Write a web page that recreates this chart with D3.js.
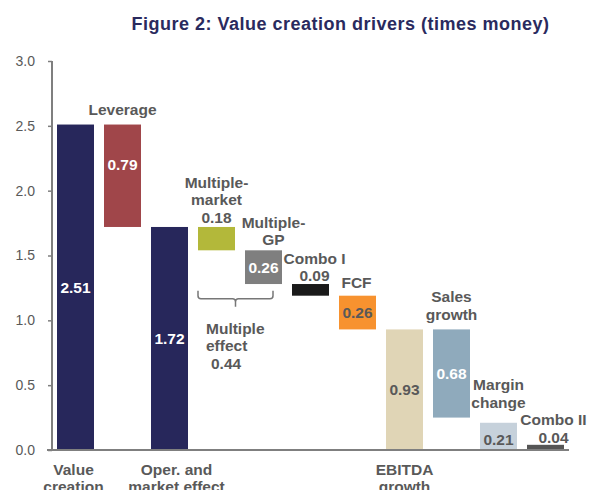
<!DOCTYPE html>
<html>
<head>
<meta charset="utf-8">
<script src="https://cdn.jsdelivr.net/npm/d3@7/dist/d3.min.js"></script>
<style>
  html, body { margin: 0; padding: 0; background: #fff; }
  svg { display: block; font-family: "Liberation Sans", Arial, sans-serif; }
</style>
</head>
<body>
<script>
// ---- data ----
const categories = ["Value creation", "Leverage", "Oper. and market effect", "Multiple-market", "Multiple-GP",
  "Combo I", "FCF", "EBITDA growth", "Sales growth", "Margin change", "Combo II"];
const barStart = [0, 1.72, 0, 1.54, 1.28, 1.19, 0.93, 0, 0.25, 0, 0];
const barEnd = [2.51, 2.51, 1.72, 1.72, 1.54, 1.28, 1.19, 0.93, 0.93, 0.21, 0.04];
const valueLabels = ["2.51", "0.79", "1.72", "0.18", "0.26", "0.09", "0.26", "0.93", "0.68", "0.21", "0.04"];
const yTicks = [0, 0.5, 1.0, 1.5, 2.0, 2.5, 3.0];
const axisCategories = [["Value", "creation"], null, ["Oper. and", "market effect"], null, null, null, null, ["EBITDA", "growth"], null, null, null];
const annotations = [null, ["Leverage"], null, ["Multiple-", "market", "0.18"], ["Multiple-", "GP"], ["Combo I", "0.09"],
  ["FCF"], null, ["Sales", "growth"], ["Margin", "change"], ["Combo II", "0.04"]];
const multipleEffect = ["Multiple", "effect", "0.44"];
const title = "Figure 2: Value creation drivers (times money)";

// ---- styles ----
const colors = ["#27275b", "#a0464a", "#27275b", "#b3b83a", "#7f7f7f", "#1a1a1a", "#f7922f", "#e0d5b6", "#8faabc", "#c6d1db", "#555555"];
const insideLabel = [true, true, true, false, true, false, true, true, true, true, false];
const labelColor = ["#fff", "#fff", "#fff", null, "#fff", null, "#595959", "#595959", "#fff", "#595959", null];
const labelNudge = {1: -11, 9: 3};
const annGap = {1: 10, 3: 4, 4: 5, 5: 3, 6: 8, 8: 9.5, 9: 15, 10: 2};
const annDx = {1: 0, 3: 0, 4: 10, 5: 4, 6: -1, 8: 0, 9: 0, 10: 8};
const gray = "#595959";
const fs = 15.5;

const W = 589, H = 490;
const svg = d3.select("body").append("svg").attr("width", W).attr("height", H);

const x = d3.scaleBand().domain(d3.range(categories.length)).range([52, 569])
  .paddingInner(10 / 47).paddingOuter(5 / 47);
const y = d3.scaleLinear().domain([0, 3]).range([450, 61]);

// title
svg.append("text").attr("x", 340.5).attr("y", 30).attr("text-anchor", "middle")
  .attr("font-size", 18).attr("font-weight", "bold").attr("letter-spacing", 0.5)
  .attr("fill", "#2a2a5e").text(title);

// bars
svg.append("g").selectAll("rect").data(categories).join("rect")
  .attr("x", (d, i) => x(i)).attr("width", x.bandwidth())
  .attr("y", (d, i) => y(barEnd[i])).attr("height", (d, i) => y(barStart[i]) - y(barEnd[i]))
  .attr("fill", (d, i) => colors[i]);

// y axis
const yAxis = svg.append("g").attr("transform", "translate(52,0)")
  .call(d3.axisLeft(y).tickValues(yTicks).tickFormat(d3.format(".1f")).tickSize(4).tickPadding(13));
yAxis.select(".domain").attr("stroke", "#7f7f7f").attr("stroke-width", 2).attr("d", `M0,${y(3)}V${y(0)}`);
yAxis.selectAll(".tick line").attr("stroke", "#7f7f7f").attr("stroke-width", 1.5);
yAxis.selectAll(".tick text").attr("font-size", 14).attr("fill", gray)
  .attr("font-family", "'Liberation Sans', Arial, sans-serif");

// x axis line
const xAxis = svg.append("g").attr("transform", `translate(0,${y(0)})`)
  .call(d3.axisBottom(x).tickSize(0).tickFormat(""));
xAxis.select(".domain").attr("stroke", "#7f7f7f").attr("stroke-width", 2).attr("d", "M47,0H569");

// category labels
const catDx = {0: -2, 2: 7, 7: 0};
categories.forEach((c, i) => {
  const lines = axisCategories[i];
  if (!lines) return;
  const t = svg.append("text").attr("text-anchor", "middle").attr("font-size", fs).attr("font-weight", "bold")
    .attr("fill", gray);
  lines.forEach((l, k) => t.append("tspan").attr("x", x(i) + x.bandwidth() / 2 + (catDx[i] || 0))
    .attr("y", y(0) + 25 + k * 17).text(l));
});

// value labels inside bars
categories.forEach((c, i) => {
  if (!insideLabel[i]) return;
  const mid = (y(barStart[i]) + y(barEnd[i])) / 2 + (labelNudge[i] || 0);
  svg.append("text").attr("x", x(i) + x.bandwidth() / 2).attr("y", mid + 5.5)
    .attr("text-anchor", "middle").attr("font-size", fs).attr("font-weight", "bold")
    .attr("fill", labelColor[i]).text(valueLabels[i]);
});

// annotations above bars
const lh = 17.5;
categories.forEach((c, i) => {
  const lines = annotations[i];
  if (!lines) return;
  const base = y(barEnd[i]) - annGap[i];
  const t = svg.append("text").attr("text-anchor", "middle").attr("font-size", fs).attr("font-weight", "bold")
    .attr("fill", gray);
  lines.forEach((l, k) => t.append("tspan").attr("x", x(i) + x.bandwidth() / 2 + (annDx[i] || 0))
    .attr("y", base - (lines.length - 1 - k) * lh).text(l));
});

// bracket under Multiple-market and Multiple-GP
const bx0 = x(3), bx1 = x(4) + x.bandwidth() - 9;
const bTop = y(barStart[5]) - 5, bBot = bTop + 8, bMid = (bx0 + bx1) / 2;
svg.append("path")
  .attr("d", `M${bx0},${bTop}V${bBot - 3}Q${bx0},${bBot} ${bx0 + 3},${bBot}H${bMid - 3}Q${bMid},${bBot} ${bMid},${bBot + 3}V${bBot + 8}` +
    `M${bMid},${bBot + 3}Q${bMid},${bBot} ${bMid + 3},${bBot}H${bx1 - 3}Q${bx1},${bBot} ${bx1},${bBot - 3}V${bTop}`)
  .attr("fill", "none").attr("stroke", "#777").attr("stroke-width", 1.5);

const me = svg.append("text").attr("font-size", fs).attr("font-weight", "bold").attr("fill", gray);
multipleEffect.forEach((l, k) => me.append("tspan").attr("x", bx0 + 8 + (k === 2 ? 5 : 0))
  .attr("y", bBot + 35 + k * 17.5).text(l));
</script>
</body>
</html>
